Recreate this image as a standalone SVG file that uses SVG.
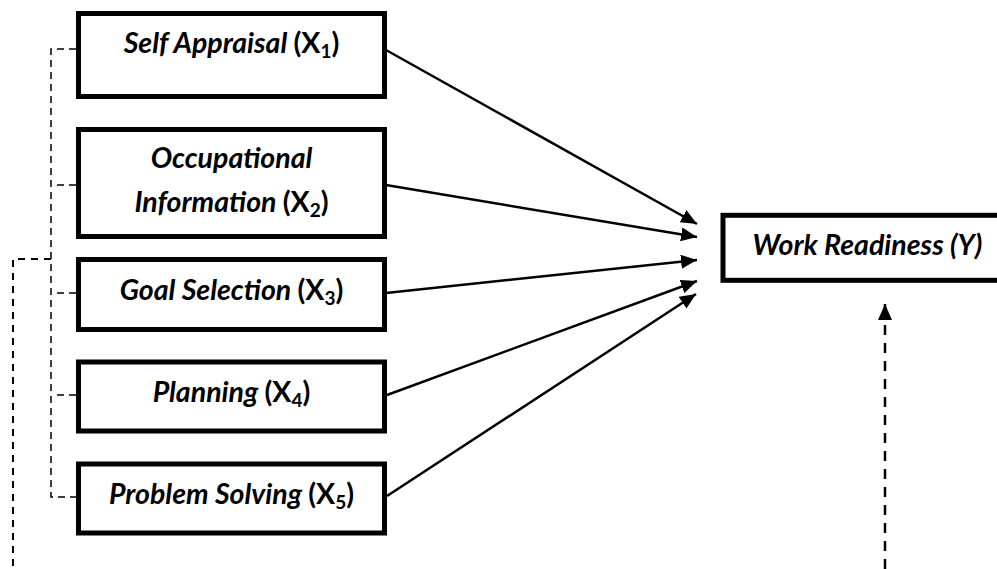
<svg xmlns="http://www.w3.org/2000/svg" width="997" height="569" viewBox="0 0 997 569">
  <style>
    .box { fill: #ffffff; stroke: #000000; stroke-width: 5; }
    .lbl { font-family: Lato, "Open Sans", "Liberation Sans", sans-serif; font-size: 28.5px; font-weight: bold; fill: #000000; text-anchor: middle; }
    .it { font-style: italic; }
    .sub { font-size: 19px; }
    .arrow { stroke: #000000; stroke-width: 2.5; fill: none; }
    .dash-thin { stroke: #000000; stroke-width: 1.5; fill: none; stroke-dasharray: 7 5; }
    .dash-mid { stroke: #000000; stroke-width: 2; fill: none; stroke-dasharray: 7 6; }
    .dash-thick { stroke: #000000; stroke-width: 2.5; fill: none; stroke-dasharray: 10 8; }
  </style>
  <defs>
    <marker id="head" markerUnits="userSpaceOnUse" markerWidth="16" markerHeight="14" refX="16" refY="7" orient="auto">
      <path d="M0,0 L16,7 L0,14 Z" fill="#000000"/>
    </marker>
  </defs>
  <rect width="997" height="569" fill="#ffffff"/>

  <g id="connectors">
    <line class="arrow" x1="386" y1="50" x2="697" y2="224" marker-end="url(#head)"/>
    <line class="arrow" x1="386" y1="185" x2="697" y2="237" marker-end="url(#head)"/>
    <line class="arrow" x1="386" y1="293" x2="697" y2="260" marker-end="url(#head)"/>
    <line class="arrow" x1="387" y1="395" x2="697" y2="281" marker-end="url(#head)"/>
    <line class="arrow" x1="387" y1="496" x2="696" y2="294" marker-end="url(#head)"/>
    <path class="dash-thin" d="M76,49 H51 V497 H76"/>
    <path class="dash-thin" d="M57,185 H76"/>
    <path class="dash-thin" d="M57,293 H76"/>
    <path class="dash-thin" d="M57,395 H76"/>
    <path class="dash-mid" d="M51,259 H13 V569"/>
    <line class="dash-thick" x1="885" y1="569" x2="885" y2="318"/>
    <line class="arrow" x1="885" y1="320" x2="885" y2="304" marker-end="url(#head)" stroke-width="0"/>
  </g>

  <g id="x1">
    <rect class="box" x="78.5" y="13.5" width="306" height="83"/>
    <text class="lbl" x="231.5" y="53"><tspan class="it">Self Appraisal </tspan>(X<tspan class="sub" dy="5">1</tspan><tspan dy="-5">)</tspan></text>
  </g>
  <g id="x2">
    <rect class="box" x="78.5" y="129.5" width="306" height="107"/>
    <text class="lbl" x="231.5" y="168"><tspan class="it">Occupational</tspan></text>
    <text class="lbl" x="231.5" y="211.5"><tspan class="it">Information </tspan>(X<tspan class="sub" dy="5">2</tspan><tspan dy="-5">)</tspan></text>
  </g>
  <g id="x3">
    <rect class="box" x="78.5" y="259.5" width="306" height="70"/>
    <text class="lbl" x="231.5" y="300"><tspan class="it">Goal Selection </tspan>(X<tspan class="sub" dy="5">3</tspan><tspan dy="-5">)</tspan></text>
  </g>
  <g id="x4">
    <rect class="box" x="78.5" y="362" width="306" height="69"/>
    <text class="lbl" x="231.5" y="401.5"><tspan class="it">Planning </tspan>(X<tspan class="sub" dy="5">4</tspan><tspan dy="-5">)</tspan></text>
  </g>
  <g id="x5">
    <rect class="box" x="78.5" y="464" width="306" height="69"/>
    <text class="lbl" x="231.5" y="503.5"><tspan class="it">Problem Solving </tspan>(X<tspan class="sub" dy="5">5</tspan><tspan dy="-5">)</tspan></text>
  </g>
  <g id="y">
    <rect class="box" x="723" y="215.3" width="290" height="65"/>
    <text class="lbl it" x="867.5" y="255">Work Readiness (Y)</text>
  </g>
</svg>
